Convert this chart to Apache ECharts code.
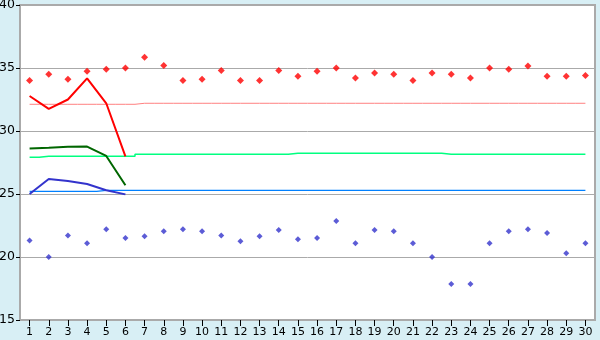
<!DOCTYPE html>
<html><head><meta charset="utf-8">
<script src="https://cdn.jsdelivr.net/npm/echarts@6/dist/echarts.min.js"></script>
<style>html,body{margin:0;padding:0;background:#d8eff5}#c{width:600px;height:340px}</style>
</head><body><div id="c"></div>
<script>
var categories = [];
for (var i = 1; i <= 30; i++) categories.push(String(i));
var yTicks = [15, 20, 25, 30, 35, 40];
var redPoints = [34.0,34.5,34.1,34.75,34.9,35.0,35.85,35.2,34.0,34.1,34.8,34.0,34.0,34.8,34.35,34.75,35.0,34.2,34.6,34.5,34.0,34.6,34.5,34.2,35.0,34.9,35.15,34.35,34.35,34.4];
var bluePoints = [21.3,20.0,21.7,21.1,22.2,21.5,21.65,22.05,22.2,22.05,21.7,21.25,21.65,22.15,21.4,21.5,22.85,21.1,22.15,22.05,21.1,20.0,17.85,17.85,21.1,22.05,22.2,21.9,20.3,21.1];
var redLine = [32.78,31.75,32.5,34.18,32.2,27.99];
var greenLine = [28.62,28.68,28.75,28.76,28.02,25.7];
var blueLine = [25.0,26.19,26.03,25.79,25.3,24.97];
var pinkRef = [32.12,32.12,32.12,32.12,32.12,32.12,32.2,32.2,32.2,32.2,32.2,32.2,32.2,32.2,32.2,32.2,32.2,32.2,32.2,32.2,32.2,32.2,32.2,32.2,32.2,32.2,32.2,32.2,32.2,32.2];
var greenRef = [27.91,27.99,27.99,27.99,27.99,27.99,28.15,28.15,28.15,28.15,28.15,28.15,28.15,28.15,28.23,28.23,28.23,28.23,28.23,28.23,28.23,28.23,28.15,28.15,28.15,28.15,28.15,28.15,28.15,28.15];
var blueRef = [25.21,25.21,25.21,25.21,25.29,25.29,25.29,25.29,25.29,25.29,25.29,25.29,25.29,25.29,25.29,25.29,25.29,25.29,25.29,25.29,25.29,25.29,25.29,25.29,25.29,25.29,25.29,25.29,25.29,25.29];

var chart = echarts.init(document.getElementById('c'));
function refLine(data, color, w) {
  return {type:'line', data:data, step:'middle', symbol:'none', silent:true,
    lineStyle:{color:color, width:w}, z:2, animation:false};
}
chart.setOption({
  animation:false,
  backgroundColor:'#d8eff5',
  grid:{left:20, right:5, top:5, bottom:20, outerBoundsMode:'none', containLabel:false, show:true, backgroundColor:'#ffffff', borderColor:'#aaaaaa', borderWidth:2},
  xAxis:{type:'category', data:categories, boundaryGap:true,
    axisLine:{show:true, lineStyle:{color:'#aaaaaa', width:2}},
    axisTick:{show:true, alignWithLabel:true, length:6, lineStyle:{color:'#000000'}},
    axisLabel:{color:'#000000', fontFamily:'DejaVu Sans', fontSize:11, margin:7, interval:0},
    splitLine:{show:false}},
  yAxis:{type:'value', min:15, max:40, interval:5,
    axisLine:{show:true, lineStyle:{color:'#aaaaaa', width:2}},
    axisTick:{show:true, length:4, lineStyle:{color:'#000000'}},
    axisLabel:{color:'#000000', fontFamily:'DejaVu Sans', fontSize:12.5, margin:5,
      formatter:function(v){return yTicks.indexOf(v) >= 0 ? String(v) : '';}},
    splitLine:{show:true, lineStyle:{color:'#aaaaaa', width:1}}},
  series:[
    refLine(pinkRef, '#ff8080', 1),
    refLine(greenRef, '#00ff80', 1.5),
    refLine(blueRef, '#0080ff', 1.2),
    {type:'line', data:redLine, symbol:'none', lineStyle:{color:'#ff0000', width:2}, z:3},
    {type:'line', data:greenLine, symbol:'none', lineStyle:{color:'#006600', width:2}, z:3},
    {type:'line', data:blueLine, symbol:'none', lineStyle:{color:'#3333cc', width:2}, z:3},
    {type:'scatter', data:redPoints, symbol:'diamond', symbolSize:7, itemStyle:{color:'#ff0000'}, z:4},
    {type:'scatter', data:bluePoints, symbol:'diamond', symbolSize:6, itemStyle:{color:'#3333cc'}, z:4}
  ]
});
</script></body></html>
